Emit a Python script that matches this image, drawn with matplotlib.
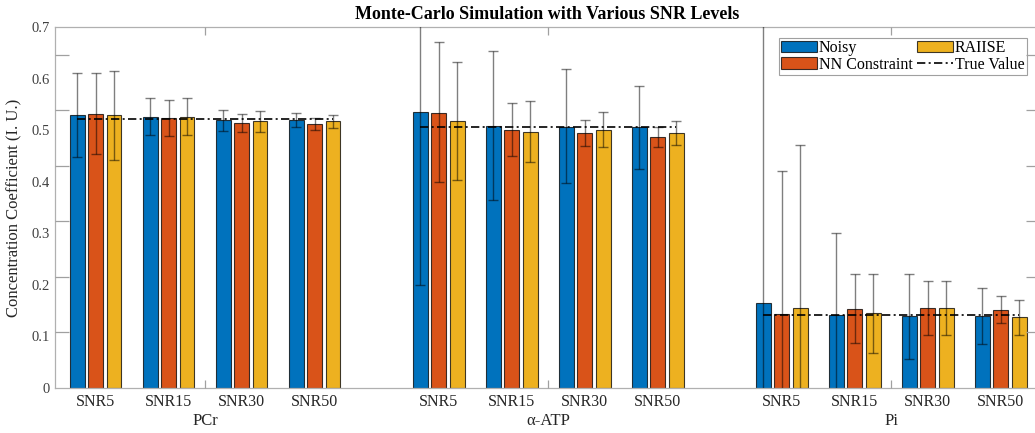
import numpy as np
import matplotlib
matplotlib.use('Agg')
import matplotlib.pyplot as plt

plt.rcParams['font.family'] = ['Liberation Serif', 'DejaVu Serif']

metabolites = ['PCr', 'α-ATP', 'Pi']
snr_labels = ['SNR5', 'SNR15', 'SNR30', 'SNR50']
methods = ['Noisy', 'NN Constraint', 'RAIISE']
colors = ['#0072BD', '#D95319', '#EDB120']

true_values = [0.521, 0.507, 0.141]

# mean estimates, [metabolite][snr] for each method
noisy_mean = [[0.529, 0.526, 0.520, 0.520],
              [0.536, 0.508, 0.507, 0.5055],
              [0.164, 0.141, 0.1396, 0.140]]
nn_mean = [[0.531, 0.5236, 0.514, 0.512],
           [0.534, 0.500, 0.494, 0.487],
           [0.1435, 0.153, 0.1545, 0.152]]
raiise_mean = [[0.529, 0.5255, 0.518, 0.517],
               [0.517, 0.497, 0.500, 0.494],
               [0.1557, 0.145, 0.1545, 0.137]]

# error bar bounds (lower, upper)
noisy_lo = [[0.448, 0.490, 0.499, 0.507],
            [0.200, 0.364, 0.397, 0.4247],
            [-0.43, -0.019, 0.0562, 0.0853]]
noisy_hi = [[0.610, 0.562, 0.540, 0.533],
            [0.872, 0.6535, 0.618, 0.585],
            [0.76, 0.301, 0.222, 0.1945]]
nn_lo = [[0.453, 0.488, 0.497, 0.500],
         [0.3995, 0.450, 0.469, 0.467],
         [-0.134, 0.0866, 0.102, 0.1254]]
nn_hi = [[0.610, 0.558, 0.531, 0.524],
         [0.670, 0.552, 0.520, 0.507],
         [0.4208, 0.2204, 0.207, 0.178]]
raiise_lo = [[0.443, 0.490, 0.496, 0.505],
             [0.404, 0.438, 0.468, 0.471],
             [-0.159, 0.0672, 0.102, 0.1028]]
raiise_hi = [[0.614, 0.562, 0.538, 0.529],
             [0.6315, 0.5565, 0.5346, 0.518],
             [0.4705, 0.222, 0.207, 0.170]]

means = [noisy_mean, nn_mean, raiise_mean]
lows = [noisy_lo, nn_lo, raiise_lo]
highs = [noisy_hi, nn_hi, raiise_hi]

group_gap = 4.7
bar_w = 0.205
offset = 0.253
W, H = 1035, 433

fig = plt.figure(figsize=(W / 100, H / 100), dpi=100)
rect = [55 / W, 45 / H, 985 / W, 361 / H]
ax = fig.add_axes(rect)

tick_pos = []
tick_lab = []
bar_handles = [None] * len(methods)
line_handle = None
for m in range(len(metabolites)):
    base = m * group_gap + np.arange(len(snr_labels))
    tick_pos.extend(base)
    tick_lab.extend(snr_labels)
    for k in range(len(methods)):
        x = base + (k - 1) * offset
        mu = np.array(means[k][m])
        lo = np.array(lows[k][m])
        hi = np.array(highs[k][m])
        b = ax.bar(x, mu, width=bar_w, color=colors[k], edgecolor=(0, 0, 0, 0.75),
                   linewidth=0.8, label=methods[k], zorder=2)
        if m == 0:
            bar_handles[k] = b
        ax.errorbar(x, mu, yerr=[mu - lo, hi - mu], fmt='none', ecolor='k',
                    alpha=0.5, elinewidth=1.0, capsize=3.5, capthick=1.0, zorder=3)
    ln, = ax.plot([base[0] - offset, base[-1] + offset], [true_values[m]] * 2,
                  color='k', lw=1.2, linestyle=(0, (5, 2, 1.2, 2)), zorder=4)
    if m == 0:
        line_handle = ln

xlim = (-0.555, 12.938)
ax.set_xlim(xlim)
ax.set_ylim(0, 0.7)
ax.set_xticks(tick_pos)
ax.set_xticklabels(tick_lab, fontsize=11.5, color='#262626')
ax.set_yticks(np.arange(0, 0.71, 0.1))
ax.set_yticklabels(['0', '0.1', '0.2', '0.3', '0.4', '0.5', '0.6', '0.7'],
                   fontsize=10.5, color='#404040')
ax.tick_params(length=0, pad=4)
for s in ax.spines.values():
    s.set_color('#b0b0b0')
    s.set_linewidth(0.9)
ax.set_ylabel('Concentration Coefficient (I. U.)', fontsize=12, color='#262626', labelpad=6)
ax.set_title('Monte-Carlo Simulation with Various SNR Levels', fontsize=13,
             fontweight='bold', pad=6)

# overlay axis carrying the metabolite labels and the gray tick marks
ov = fig.add_axes(rect, frameon=False)
ov.patch.set_visible(False)
ov.set_xlim(xlim)
ov.set_ylim(0, 0.65)
ov.set_xticks([1.5 + m * group_gap for m in range(len(metabolites))])
ov.set_xticklabels(metabolites, fontsize=12, color='#262626')
ov.set_yticks(np.arange(0.1, 0.61, 0.1))
ov.set_yticklabels([])
ov.tick_params(axis='both', direction='in', color='#a0a0a0', width=0.9,
               top=True, right=True, labeltop=False, labelright=False, labelleft=False)
ov.tick_params(axis='x', length=6, pad=18)
ov.tick_params(axis='y', length=10)

handles = [bar_handles[0], bar_handles[1], bar_handles[2], line_handle]
labels = ['Noisy', 'NN Constraint', 'RAIISE', 'True Value']
leg = ax.legend(handles, labels, ncol=2, loc='upper right', bbox_to_anchor=(0.9868, 0.9704),
                borderaxespad=0, fontsize=11.5, frameon=True, fancybox=False,
                edgecolor='#a0a0a0', framealpha=1, handlelength=2.2,
                handleheight=0.75, handletextpad=0.15, columnspacing=0.3,
                labelspacing=0.05, borderpad=0.15)
leg.get_frame().set_linewidth(0.8)
leg.set_zorder(10)

fig.savefig('out.png', dpi=100)
